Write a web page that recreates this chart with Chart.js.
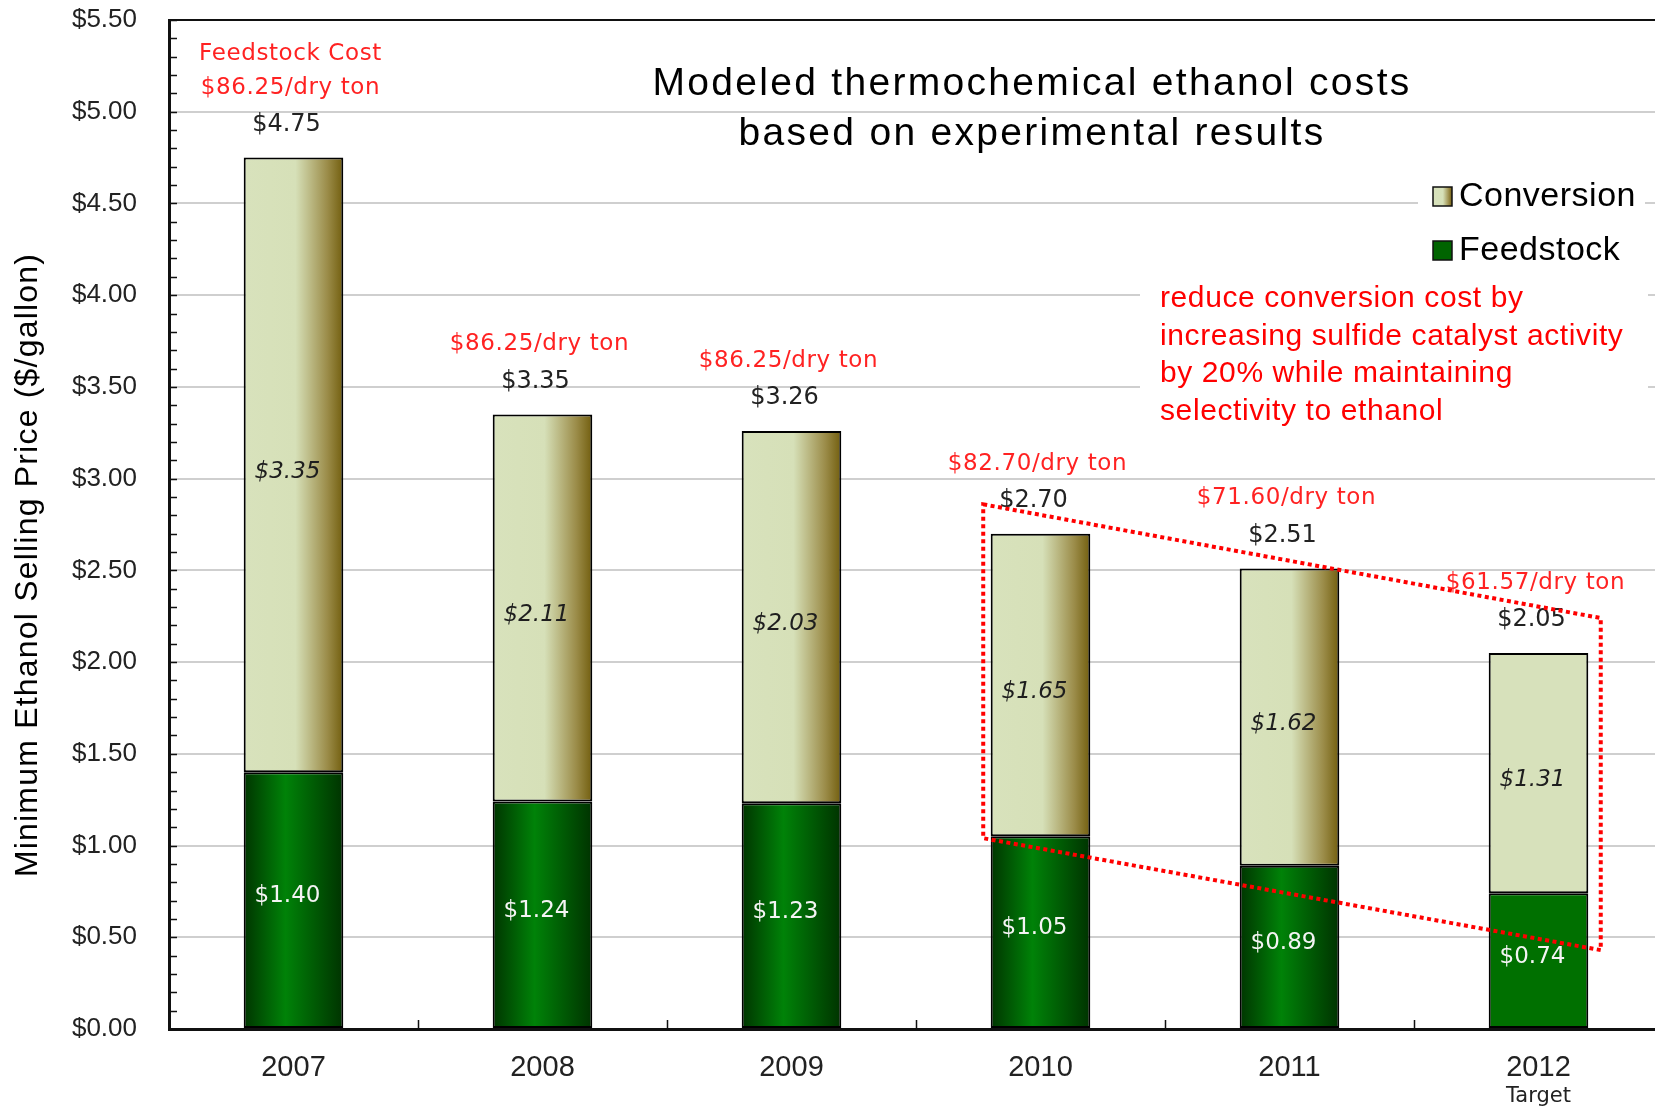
<!DOCTYPE html>
<html>
<head>
<meta charset="utf-8">
<script src="https://cdn.jsdelivr.net/npm/chart.js@4.4.1/dist/chart.umd.min.js"></script>
<style>
html, body { margin: 0; padding: 0; background: #fff; overflow: hidden; }
#wrap { position: relative; width: 1663px; height: 1110px; }
</style>
</head>
<body>
<div id="wrap"><canvas id="myChart"></canvas></div>
<script>
// values
const years = ['2007', '2008', '2009', '2010', '2011', '2012'];
const feedstock = [1.40, 1.24, 1.23, 1.05, 0.89, 0.74];
const conversion = [3.35, 2.11, 2.03, 1.65, 1.62, 1.31];
const totals = [4.75, 3.35, 3.26, 2.70, 2.51, 2.05];
const feedCostLabels = [
	['Feedstock Cost', '$86.25/dry ton'],
	['$86.25/dry ton'],
	['$86.25/dry ton'],
	['$82.70/dry ton'],
	['$71.60/dry ton'],
	['$61.57/dry ton']
];
const targetYear = '2012';
const noteLines = [
	'reduce conversion cost by',
	'increasing sulfide catalyst activity',
	'by 20% while maintaining',
	'selectivity to ethanol'
];

const SANS = 'Arial, "Liberation Sans", sans-serif';
const VERD = '"DejaVu Sans", Verdana, sans-serif';
const barPct = 0.4;

const convStops = [[0, '#d8e2bc'], [0.52, '#d6e0b8'], [0.68, '#b9b680'], [0.84, '#9b8c49'], [1, '#725e0e']];
const feedStops = [[0, '#003500'], [0.42, '#008208'], [1, '#003300']];

function barFill(ctx, stops, flat) {
	const chart = ctx.chart;
	if (!chart.chartArea || ctx.dataIndex === undefined) return flat;
	if (years[ctx.dataIndex] === targetYear) return flat;
	const xs = chart.scales.x;
	const cx = xs.getPixelForValue(ctx.dataIndex);
	const half = (xs.width / years.length) * barPct / 2;
	const g = chart.ctx.createLinearGradient(cx - half, 0, cx + half, 0);
	stops.forEach(function(s) { g.addColorStop(s[0], s[1]); });
	return g;
}

function put(c, str, x, y, font, color, spacing, align) {
	c.font = font;
	c.fillStyle = color;
	c.letterSpacing = spacing || '0px';
	c.textAlign = align || 'center';
	c.textBaseline = 'middle';
	c.fillText(str, x, y);
}

// dotted "focus" outline, in category index / $ units
const focusX = [2.77, 5.25, 5.25, 2.77];
const focusY = [2.86, 2.24, 0.43, 1.04];

const decor = {
	id: 'decor',
	beforeDatasetsDraw(chart) {
		const c = chart.ctx;
		c.save();
		c.fillStyle = '#fff';
		c.fillRect(1418, 176, 227, 92);   // behind legend
		c.fillRect(1140, 276, 508, 150);  // behind note
		c.restore();
	},
	afterDatasetsDraw(chart) {
		const c = chart.ctx;
		const xs = chart.scales.x, ys = chart.scales.y;
		const area = chart.chartArea;
		c.save();

		// frame top + inner ticks
		c.strokeStyle = '#111';
		c.lineWidth = 2;
		c.beginPath();
		c.moveTo(area.left, area.top);
		c.lineTo(area.right, area.top);
		c.stroke();
		c.lineWidth = 1.5;
		c.beginPath();
		for (let v = 0; v <= 55; v++) {
			const y = Math.round(ys.getPixelForValue(v / 10)) + 0.5;
			c.moveTo(area.left, y);
			c.lineTo(area.left + 8, y);
		}
		const slot = xs.width / years.length;
		for (let i = 0; i < years.length - 1; i++) {
			const x = Math.round(xs.getPixelForValue(i) + slot / 2) + 0.5;
			c.moveTo(x, area.bottom);
			c.lineTo(x, area.bottom - 9);
		}
		c.stroke();

		// bar labels
		const fMeta = chart.getDatasetMeta(0), cMeta = chart.getDatasetMeta(1);
		years.forEach(function(yr, i) {
			const fe = fMeta.data[i], ce = cMeta.data[i];
			put(c, '$' + feedstock[i].toFixed(2), fe.x - 6, (fe.y + fe.base) / 2 - 4, '23px ' + VERD, '#f4f4f4');
			put(c, '$' + conversion[i].toFixed(2), ce.x - 6, (ce.y + ce.base) / 2 + 7, 'italic 23px ' + VERD, '#1e1e1e');
			const top = ys.getPixelForValue(totals[i]);
			put(c, '$' + totals[i].toFixed(2), ce.x - 7, top - 33, '24px ' + VERD, '#222');
			const lines = feedCostLabels[i];
			lines.forEach(function(t, k) {
				const y = top - 70 - (lines.length - 1 - k) * 34;
				put(c, t, ce.x - 3, y, '23px ' + VERD, '#ff2222', '0.6px');
			});
			if (yr === targetYear) {
				put(c, 'Target', xs.getPixelForValue(i), 1097, '21px ' + VERD, '#222');
			}
		});

		// dotted outline
		c.strokeStyle = '#ff0000';
		c.lineWidth = 4;
		c.setLineDash([4, 3.5]);
		c.beginPath();
		focusX.forEach(function(v, k) {
			const x = xs.getPixelForValue(v), y = ys.getPixelForValue(focusY[k]);
			if (k === 0) c.moveTo(x, y); else c.lineTo(x, y);
		});
		c.closePath();
		c.stroke();
		c.setLineDash([]);

		// title
		put(c, 'Modeled thermochemical ethanol costs', 1032, 84, '39px ' + SANS, '#000', '2.3px');
		put(c, 'based on experimental results', 1032, 134, '39px ' + SANS, '#000', '2.3px');

		// legend
		const items = [chart.data.datasets[1], chart.data.datasets[0]];
		items.forEach(function(ds, k) {
			const cy = 196 + k * 54;
			let fill;
			if (k === 0) {
				fill = c.createLinearGradient(1433, 0, 1452, 0);
				convStops.forEach(function(s) { fill.addColorStop(s[0], s[1]); });
			} else {
				fill = '#006400';
			}
			c.fillStyle = fill;
			c.fillRect(1433, cy - 9, 19, 19);
			c.strokeStyle = '#111';
			c.lineWidth = 1.5;
			c.strokeRect(1433, cy - 9, 19, 19);
			put(c, ds.label, 1459, cy + 1, '34px ' + SANS, '#000', '0.5px', 'left');
		});

		// note
		c.font = '30px ' + SANS;
		c.fillStyle = '#ff0000';
		c.letterSpacing = '0.6px';
		c.textAlign = 'left';
		c.textBaseline = 'alphabetic';
		noteLines.forEach(function(t, k) {
			c.fillText(t, 1160, 307 + k * 37.7);
		});

		// y axis title
		c.translate(28, 565);
		c.rotate(-Math.PI / 2);
		put(c, 'Minimum Ethanol Selling Price ($/gallon)', 0, 0, '32px ' + SANS, '#000', '1.2px');
		c.restore();
	}
};

const ctx = document.getElementById('myChart');
const myChart = new Chart(ctx, {
	type: 'bar',
	data: {
		labels: years,
		datasets: [{
			label: 'Feedstock',
			data: feedstock,
			backgroundColor: function(c) { return barFill(c, feedStops, '#007000'); },
			borderColor: '#000',
			borderWidth: 2,
			borderSkipped: false
		}, {
			label: 'Conversion',
			data: conversion,
			backgroundColor: function(c) { return barFill(c, convStops, '#d7e1bb'); },
			borderColor: '#000',
			borderWidth: 2,
			borderSkipped: false
		}]
	},
	options: {
		responsive: true,
		maintainAspectRatio: false,
		animation: false,
		layout: { padding: { top: 20, left: 0, right: 0, bottom: 0 } },
		datasets: { bar: { barPercentage: barPct, categoryPercentage: 1 } },
		plugins: {
			legend: { display: false },
			tooltip: { enabled: false }
		},
		scales: {
			x: {
				stacked: true,
				grid: { display: false, drawTicks: false },
				border: { color: '#111', width: 3 },
				ticks: { font: { family: SANS, size: 29 }, color: '#222', padding: 22 },
				afterFit: function(s) { s.height = 81; s.paddingLeft = 0; s.paddingRight = 0; }
			},
			y: {
				stacked: true,
				min: 0,
				max: 5.5,
				grid: { color: '#cfcfcf', lineWidth: 2, drawTicks: false },
				border: { color: '#111', width: 3 },
				ticks: {
					stepSize: 0.5,
					font: { family: SANS, size: 26 },
					color: '#222',
					padding: 32,
					callback: function(v) { return '$' + v.toFixed(2); }
				},
				afterFit: function(s) { s.width = 169; s.paddingTop = 0; s.paddingBottom = 0; }
			}
		}
	},
	plugins: [decor]
});
</script>
</body>
</html>
